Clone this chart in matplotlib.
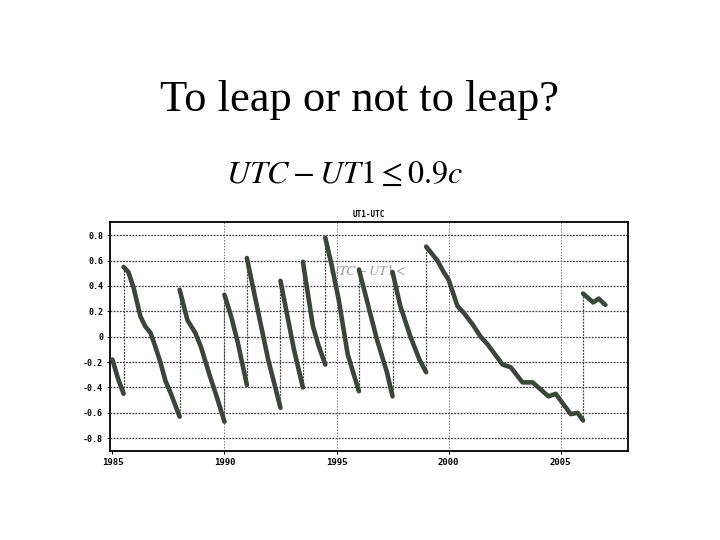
import matplotlib
matplotlib.use('Agg')
import matplotlib.pyplot as plt

# UT1-UTC (seconds), one list per stretch between leap seconds
SEGMENTS = [
    [(1985.0, -0.18), (1985.25, -0.33), (1985.5, -0.45)],
    [(1985.5, 0.55), (1985.71, 0.51), (1985.94, 0.39), (1986.25, 0.16), (1986.47, 0.08),
     (1986.7, 0.03), (1986.9, -0.07), (1987.14, -0.20), (1987.37, -0.35), (1987.59, -0.44),
     (1988.0, -0.63)],
    [(1988.0, 0.37), (1988.35, 0.13), (1988.7, 0.03), (1988.95, -0.08), (1989.35, -0.31),
     (1989.65, -0.47), (1990.0, -0.67)],
    [(1990.0, 0.33), (1990.3, 0.16), (1990.6, -0.05), (1991.0, -0.38)],
    [(1991.0, 0.62), (1991.45, 0.24), (1991.95, -0.18), (1992.5, -0.56)],
    [(1992.5, 0.44), (1993.1, -0.10), (1993.5, -0.40)],
    [(1993.5, 0.59), (1993.95, 0.08), (1994.2, -0.07), (1994.5, -0.22)],
    [(1994.5, 0.78), (1994.8, 0.55), (1995.1, 0.29), (1995.5, -0.14), (1996.0, -0.43)],
    [(1996.0, 0.53), (1996.35, 0.29), (1996.8, -0.02), (1997.25, -0.28), (1997.5, -0.47)],
    [(1997.5, 0.51), (1997.85, 0.24), (1998.3, 0.00), (1998.7, -0.18), (1999.0, -0.28)],
    [(1999.0, 0.71), (1999.5, 0.60), (1999.78, 0.51), (2000.0, 0.45), (2000.4, 0.24),
     (2000.67, 0.19), (2001.1, 0.09), (2001.43, 0.00), (2001.74, -0.06), (2002.41, -0.22),
     (2002.77, -0.24), (2003.3, -0.36), (2003.75, -0.36), (2004.46, -0.47), (2004.78, -0.45),
     (2005.45, -0.61), (2005.76, -0.60), (2006.0, -0.66)],
    [(2006.0, 0.34), (2006.45, 0.27), (2006.7, 0.30), (2007.0, 0.25)],
]
YTICKS = [-0.8, -0.6, -0.4, -0.2, 0, 0.2, 0.4, 0.6, 0.8]
YLABELS = ['-0.8', '-0.6', '-0.4', '-0.2', '0', '0.2', '0.4', '0.6', '0.8']
XTICKS = [1985, 1990, 1995, 2000, 2005]

LINE = '#3b463b'
plt.rcParams['mathtext.fontset'] = 'stix'

fig = plt.figure(figsize=(7.2, 5.4), dpi=100)
fig.text(0.50, 0.795, 'To leap or not to leap?', ha='center', va='baseline',
         fontsize=32, family='Liberation Serif')
fig.text(0.478, 0.662, r'$UTC - UT1 \leq 0.9c$', ha='center', va='baseline', fontsize=23)

ax = fig.add_axes([0.153, 0.165, 0.719, 0.423])
for y in YTICKS:
    ax.axhline(y, color='#444444', lw=0.9, ls=(0, (1.5, 1)), zorder=1)
for x in XTICKS[1:]:
    ax.axvline(x, color='#777777', lw=0.7, ls=(0, (1.5, 1.5)), zorder=1)

ax.text(1994.6, 0.49, r'$UTC - UT1 <$', fontsize=10, color='#999999', zorder=0)

prev = None
for seg in SEGMENTS:
    xs = [p[0] for p in seg]
    ys = [p[1] for p in seg]
    if prev is not None:
        ax.plot([prev[0], xs[0]], [prev[1], ys[0]], color=LINE, lw=0.9,
                ls=(0, (1.5, 1)), zorder=2)
    ax.plot(xs, ys, color=LINE, lw=3.3, solid_capstyle='round', zorder=3)
    prev = seg[-1]

ax.set_xlim(1984.9, 2008.0)
ax.set_ylim(-0.9, 0.9)
ax.set_yticks(YTICKS)
ax.set_yticklabels(YLABELS, fontsize=6, fontweight='bold', family='DejaVu Sans Mono')
ax.set_xticks(XTICKS)
ax.set_xticklabels([str(x) for x in XTICKS], fontsize=6.5, fontweight='bold',
                   family='DejaVu Sans Mono')
ax.tick_params(length=2, width=0.8, pad=3)
for s in ax.spines.values():
    s.set_linewidth(1.3)
ax.set_title('UT1-UTC', fontsize=5.5, fontweight='bold', family='DejaVu Sans Mono', pad=4)

plt.savefig('out.png', dpi=100, facecolor='white')
